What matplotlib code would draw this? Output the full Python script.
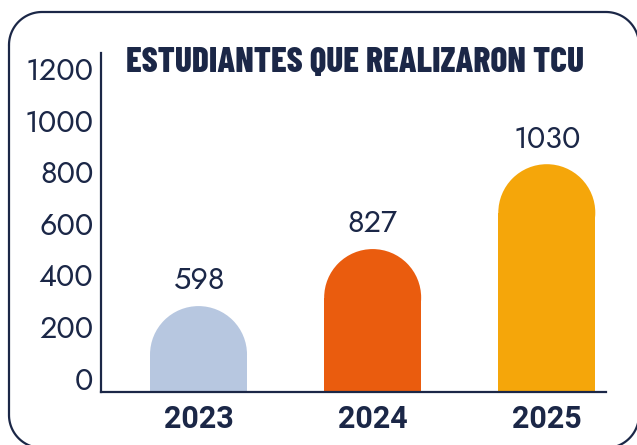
import matplotlib
matplotlib.use("Agg")
import matplotlib.pyplot as plt
from matplotlib.patches import Rectangle, Ellipse
import numpy as np

# data
years = ['2023', '2024', '2025']
students = [598, 827, 1030]       # numbers printed above the bars
bar_tops = [279, 500, 829]        # bar heights as drawn against the y axis
bar_colors = ['#b7c7e0', '#ea5c0e', '#f5a60a']
yticks = [0, 200, 400, 600, 800, 1000, 1200]

navy = '#1b2747'
num_font = 'Jost'
year_font = 'Roboto'
title_font = 'Barlow Condensed'

fig = plt.figure(figsize=(6.37, 4.45), dpi=100)

# background axes in pixel units, for the rounded card border
bg = fig.add_axes([0, 0, 1, 1])
bg.set_xlim(0, 637)
bg.set_ylim(0, 445)
bg.axis('off')
L, R, B, T, r = 9, 639, -3, 433, 33
t = np.linspace(0, np.pi/2, 30)
fx = np.concatenate([L + r - r*np.cos(t), R - r + r*np.sin(t),
                     R - r + r*np.cos(t), L + r - r*np.sin(t)])
fy = np.concatenate([T - r + r*np.sin(t), T - r + r*np.cos(t),
                     B + r - r*np.sin(t), B + r - r*np.cos(t)])
fx = np.append(fx, fx[0])
fy = np.append(fy, fy[0])
bg.plot(fx, fy, color=navy, lw=1.6, solid_capstyle='round')

ax = fig.add_axes([101/637, 53/445, 505/637, 339/445])
ax.patch.set_alpha(0)

ymin, ymax = -54, 1260
ax.set_ylim(ymin, ymax)
ax.set_xlim(-0.56, 2.34)

# rounded top bars: a rectangle plus a half ellipse on top
width = 0.557
x = np.arange(len(years))
py0 = ax.transData.transform((0, 0))[1]
py1 = ax.transData.transform((0, 1))[1]
px0 = ax.transData.transform((0, 0))[0]
px1 = ax.transData.transform((1, 0))[0]
ry = (width/2*(px1-px0)) / (py1-py0)
for i in range(len(years)):
    top = bar_tops[i]
    ax.add_patch(Rectangle((x[i]-width/2, ymin), width, top-ry-ymin,
                           facecolor=bar_colors[i], edgecolor='none', zorder=1))
    ax.add_patch(Ellipse((x[i], top-ry), width, 2*ry,
                         facecolor=bar_colors[i], edgecolor='none', zorder=1))
    ax.annotate(str(students[i]), (x[i], top), xytext=(0, 12), textcoords='offset points',
                ha='center', va='baseline', fontsize=22, color=navy, family=num_font)

for s in ['top', 'right']:
    ax.spines[s].set_visible(False)
for s in ['left', 'bottom']:
    ax.spines[s].set_color(navy)
    ax.spines[s].set_linewidth(1.6)

ax.set_yticks(yticks)
ax.set_yticklabels([str(t) for t in yticks], fontsize=22, color=navy, family=num_font)
ax.set_xticks(x)
ax.set_xticklabels(years, fontsize=22, color=navy, family=year_font, fontweight='bold')
ax.tick_params(axis='y', length=0, pad=5.5)
ax.tick_params(axis='x', length=0, pad=8.5)

fig.text(355/637, 1-63/445, 'ESTUDIANTES QUE REALIZARON TCU', ha='center', va='center',
         fontsize=25.5, fontweight=800, color=navy, family=title_font)

fig.savefig('out.png', dpi=100)
